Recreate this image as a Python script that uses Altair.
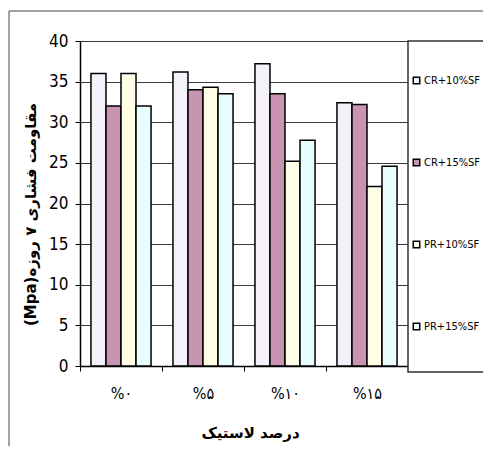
import altair as alt
import pandas as pd

categories = ["%۰", "%۵", "%۱۰", "%۱۵"]
series = ["CR+10%SF", "CR+15%SF", "PR+10%SF", "PR+15%SF"]
cr10 = [36.0, 36.2, 37.2, 32.4]
cr15 = [32.0, 34.0, 33.5, 32.2]
pr10 = [36.0, 34.3, 25.2, 22.1]
pr15 = [32.0, 33.5, 27.8, 24.6]
colors = ["#f4f1fb", "#c994b1", "#fffde6", "#e8fdfd"]
y_ticks = [0, 5, 10, 15, 20, 25, 30, 35, 40]

rows = []
for s, vals in zip(series, [cr10, cr15, pr10, pr15]):
    for c, v in zip(categories, vals):
        rows.append({"cat": c, "series": s, "value": v})
df = pd.DataFrame(rows)

NUM_FONT = "DejaVu Sans Condensed, Liberation Sans, Arial"
FA_FONT = "DejaVu Sans"

outer = alt.Chart(pd.DataFrame({"a": [0]})).mark_rect(
    fillOpacity=0, stroke="#444444", strokeWidth=1
).encode(x=alt.value(-71), y=alt.value(-30), x2=alt.value(800), y2=alt.value(800))

legend_frame = alt.Chart(pd.DataFrame({"a": [0]})).mark_rect(
    fill="white", stroke="#333333", strokeWidth=1.5
).encode(x=alt.value(328), y=alt.value(0), x2=alt.value(800), y2=alt.value(331))

bars = alt.Chart(df).mark_bar(stroke="black", strokeWidth=1.5).encode(
    x=alt.X("cat:N", sort=categories,
            scale=alt.Scale(paddingInner=0, paddingOuter=0),
            axis=alt.Axis(title="درصد لاستیک", labelAngle=0, tickBand="extent",
                          labelFont=NUM_FONT, labelFontSize=16, labelColor="black",
                          labelPadding=14, tickSize=5, tickColor="black",
                          domainColor="black", domainWidth=1.5,
                          titleFont=FA_FONT, titleFontSize=15, titleFontWeight="bold",
                          titleColor="black", titlePadding=24, titleX=170, grid=False)),
    xOffset=alt.XOffset("series:N", sort=series,
                        scale=alt.Scale(paddingInner=0, paddingOuter=0.73)),
    y=alt.Y("value:Q", scale=alt.Scale(domain=[0, 40], nice=False),
            axis=alt.Axis(title="(Mpa)مقاومت فشاری ۷ روزه", values=y_ticks,
                          labelFont=NUM_FONT, labelFontSize=17, labelColor="black",
                          labelPadding=7, tickSize=5, tickColor="black",
                          domainColor="black", domainWidth=1.5,
                          gridColor="#3a3a3a", gridWidth=1,
                          titleFont=FA_FONT, titleFontSize=15, titleFontWeight="bold",
                          titleColor="black", titlePadding=10, titleY=173)),
    color=alt.Color("series:N", sort=series,
                    scale=alt.Scale(domain=series, range=colors),
                    legend=alt.Legend(title=None, orient="none", legendX=331, legendY=34,
                                      symbolType="square", symbolSize=42,
                                      symbolStrokeColor="black", symbolStrokeWidth=1.5,
                                      labelFont=NUM_FONT, labelFontSize=11,
                                      labelColor="black", labelOffset=2,
                                      rowPadding=69, padding=0)),
)

chart = alt.layer(outer, legend_frame, bars).properties(
    width=328, height=325,
    autosize=alt.AutoSizeParams(type="none"),
    padding={"left": 72, "top": 33, "right": 75, "bottom": 80},
).configure_view(fill="#c0c0c0", stroke="#808080", strokeWidth=1.5
).configure(background="white")

chart.save("out.html", embed_options={"renderer": "svg", "actions": False})
